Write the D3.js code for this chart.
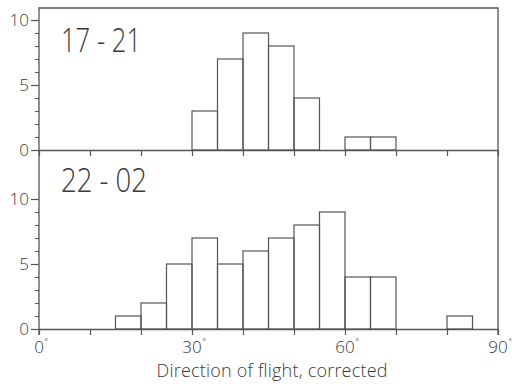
<!DOCTYPE html>
<html>
<head>
<meta charset="utf-8">
<script src="https://cdn.jsdelivr.net/npm/d3@7"></script>
<style>
    body { margin: 0; background: #fff; }
    svg { display: block; }
    text { font-family: "Open Sans", "DejaVu Sans", sans-serif; font-weight: 300; fill: #3a3a3a; }
</style>
</head>
<body>
<div id="chart"></div>
<script>
// 5-degree bins, start of each bin
const binStarts = [0, 5, 10, 15, 20, 25, 30, 35, 40, 45, 50, 55, 60, 65, 70, 75, 80, 85];
const binWidth = 5;
const counts1721 = [0, 0, 0, 0, 0, 0, 3, 7, 9, 8, 4, 0, 1, 1, 0, 0, 0, 0];
const counts2202 = [0, 0, 0, 1, 2, 5, 7, 5, 6, 7, 8, 9, 4, 4, 0, 0, 1, 0];
const panelLabels = ['17 - 21', '22 - 02'];
const yTickValues = [0, 5, 10];
const yMinorValues = [1, 2, 3, 4, 6, 7, 8, 9];
const xTickValues = [0, 10, 20, 30, 40, 50, 60, 70, 80, 90];
const xLabelValues = [0, 30, 60, 90];
const xTitle = 'Direction of flight, corrected';

const W = 512, H = 386;
const lineColor = '#555';

const svg = d3.select('#chart').append('svg')
    .attr('width', W)
    .attr('height', H);

const x = d3.scaleLinear().domain([0, 90]).range([39, 498]);

const frameTop = 8;
const panels = [
    { counts: counts1721, label: panelLabels[0], y: d3.scaleLinear().domain([0, 10]).range([150, 20]), labelY: 52 },
    { counts: counts2202, label: panelLabels[1], y: d3.scaleLinear().domain([0, 10]).range([329, 199]), labelY: 192 }
];

panels.forEach((p, i) => {
    const g = svg.append('g');
    const base = p.y(0);

    // bars
    const data = binStarts.map((b, j) => ({ start: b, count: p.counts[j] })).filter(d => d.count > 0);
    g.selectAll('rect.bar')
        .data(data)
        .enter().append('rect')
        .attr('class', 'bar')
        .attr('x', d => x(d.start))
        .attr('width', d => x(d.start + binWidth) - x(d.start))
        .attr('y', d => p.y(d.count))
        .attr('height', d => base - p.y(d.count))
        .attr('fill', 'none')
        .attr('stroke', lineColor)
        .attr('stroke-width', 1.2);

    // x axis along the baseline, ticks pointing down
    const xAxis = g.append('g')
        .attr('transform', `translate(0, ${base})`)
        .call(d3.axisBottom(x)
            .tickValues(xTickValues)
            .tickSize(6)
            .tickSizeOuter(0)
            .tickFormat(''));
    xAxis.select('.domain').attr('stroke', lineColor).attr('stroke-width', 1.3);
    xAxis.selectAll('.tick line').attr('stroke', lineColor).attr('stroke-width', 1.2);

    // left axis: major + minor ticks
    const yAxis = g.append('g')
        .attr('transform', `translate(${x(0)}, 0)`)
        .call(d3.axisLeft(p.y).tickValues(yTickValues).tickSize(8).tickPadding(2));
    yAxis.select('.domain').remove();
    yAxis.selectAll('.tick line').attr('stroke', lineColor).attr('stroke-width', 1.2);
    yAxis.selectAll('.tick text')
        .style('font-size', '17px')
        .attr('dy', '0.35em')
        .attr('fill', '#3a3a3a');

    g.append('g')
        .attr('transform', `translate(${x(0)}, 0)`)
        .call(d3.axisLeft(p.y).tickValues(yMinorValues).tickSize(4).tickFormat(''))
        .call(a => a.select('.domain').remove())
        .selectAll('.tick line').attr('stroke', lineColor).attr('stroke-width', 1);

    // panel label
    g.append('text')
        .attr('x', 61)
        .attr('y', p.labelY)
        .style('font-size', '33px')
        .attr('textLength', i === 0 ? 80 : 86)
        .attr('lengthAdjust', 'spacingAndGlyphs')
        .text(p.label);
});

// frame: top, left and right sides
const bottomBase = panels[1].y(0);
svg.append('path')
    .attr('d', `M${x(0)},${bottomBase + 6}V${frameTop}H${x(90)}V${bottomBase + 6}`)
    .attr('fill', 'none')
    .attr('stroke', lineColor)
    .attr('stroke-width', 1.3);

// x tick labels with small degree sign
const xl = svg.append('g').selectAll('g')
    .data(xLabelValues)
    .enter().append('g')
    .attr('transform', d => `translate(${x(d)}, ${bottomBase + 24})`);
xl.append('text')
    .attr('text-anchor', 'middle')
    .style('font-size', '17px')
    .text(d => d);
xl.append('text')
    .attr('x', function (d) {
        return this.parentNode.querySelector('text').getComputedTextLength() / 2 + 0.5;
    })
    .attr('y', -8)
    .style('font-size', '9px')
    .attr('fill', '#999')
    .text('°');

// axis title
svg.append('text')
    .attr('x', 272)
    .attr('y', 377)
    .attr('text-anchor', 'middle')
    .style('font-size', '18px')
    .attr('textLength', 231)
    .attr('lengthAdjust', 'spacing')
    .text(xTitle);
</script>
</body>
</html>
